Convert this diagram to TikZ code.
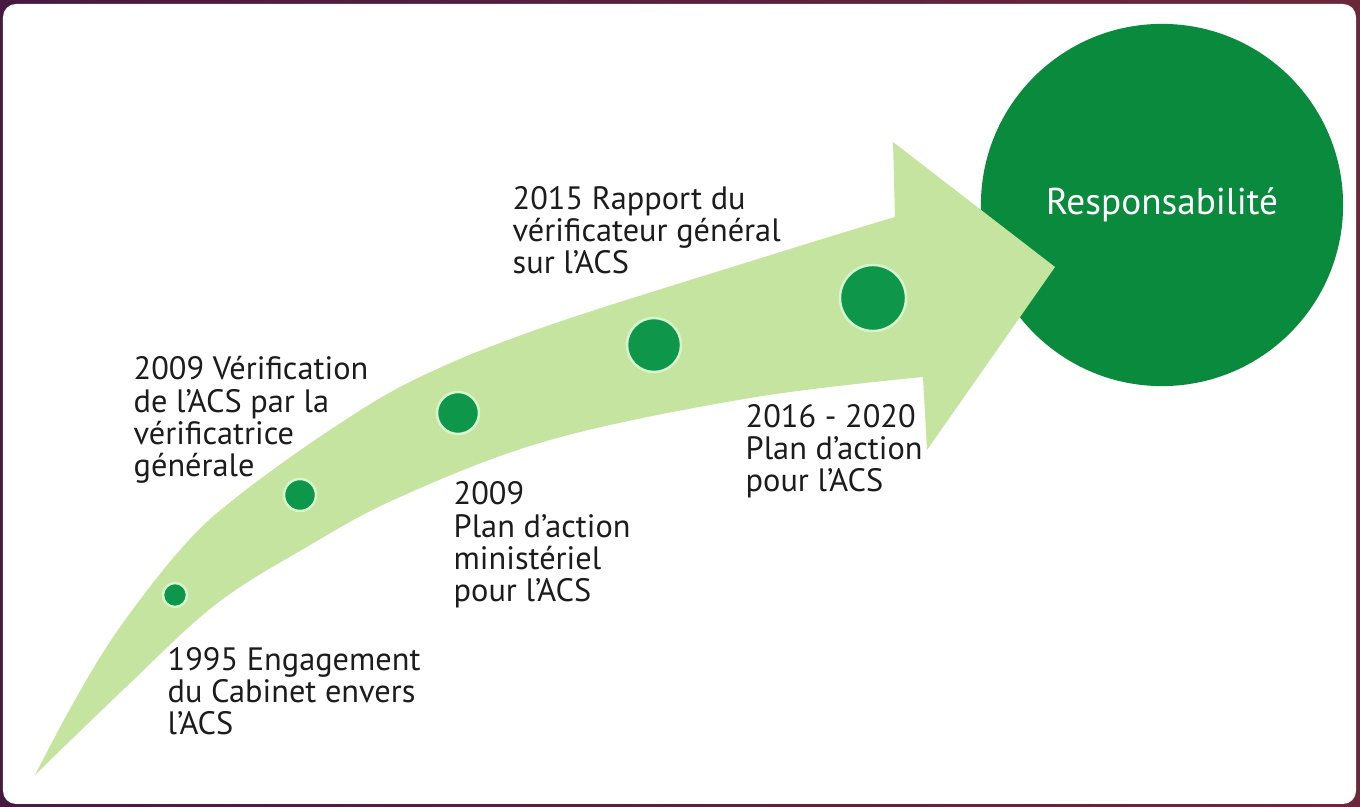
\documentclass[tikz,border=0pt]{standalone}
\usepackage{fontspec}
\setmainfont{PT Sans}
\usetikzlibrary{
    positioning      % For placing nodes relative to each other
}
\definecolor{framedark}{RGB}{70,26,64}
\definecolor{framered}{RGB}{108,40,58}
\definecolor{arrowlight}{RGB}{197,228,160}
\definecolor{dotgreen}{RGB}{14,150,74}
\definecolor{ringgreen}{RGB}{214,246,206}
\definecolor{goalgreen}{RGB}{10,138,60}
\definecolor{textdark}{RGB}{28,28,28}

\begin{document}
\begin{tikzpicture}[
    % one unit is one pixel of the layout, y runs downwards
    x=0.01cm, y=-0.01cm,
    % Style for the pale green arrow
    arrow_fill/.style={
        fill=arrowlight
    },
    % Style for the milestone dots
    dot_style/.style={
        circle,
        fill=dotgreen,
        draw=ringgreen,
        line width=0.7pt,
        inner sep=0pt
    },
    % Style for the milestone texts (placed at the baseline of their last line)
    label_style/.style={
        anchor=base west,
        align=left,
        inner sep=0pt,
        text=textdark,
        font=\fontsize{9.2}{9.2}\selectfont
    },
    % Style for the goal circle
    goal_style/.style={
        circle,
        fill=goalgreen,
        minimum size=3.62cm,
        inner sep=0pt,
        text=white,
        font=\fontsize{10.6}{12}\selectfont
    }
]
    % 1. Frame and white card.
    \useasboundingbox (0,0) rectangle (1360,807);
    \shade[left color=framedark, right color=framered] (0,0) rectangle (1360,807);
    \fill[white, rounded corners=3.7pt] (3,4) rectangle (1356,804);

    % 2. The goal circle, behind the arrow.
    \node[goal_style] (goal) at (1162,205) {Responsabilité};

    % 3. The curved arrow: upper edge, head, lower edge back to the tip.
    \fill[arrow_fill]
        plot[smooth, tension=0.6] coordinates {(35,775) (75,700) (118,630) (180,550) (233,500) (330,430) (420,377) (550,325) (787,250) (895,217)}
        -- (893,142) -- (1055,267) -- (927,450)
        -- plot[smooth, tension=0.6] coordinates {(923,377) (750,398) (550,440) (400,497) (305,548) (215,605) (125,688) (35,775)}
        -- cycle;

    % 4. Milestone dots along the arrow.
    \node[dot_style, minimum size=0.24cm] (dot_1995) at (175,595) {};
    \node[dot_style, minimum size=0.32cm] (dot_2009a) at (300,495) {};
    \node[dot_style, minimum size=0.42cm] (dot_2009b) at (458,413) {};
    \node[dot_style, minimum size=0.54cm] (dot_2015) at (654,345) {};
    \node[dot_style, minimum size=0.66cm] (dot_2016) at (873,298) {};

    % 5. Milestone texts.
    \node[label_style] (text_1995) at (167,735) {1995 Engagement\\du Cabinet envers\\l’ACS};
    \node[label_style] (text_2009a) at (133,477) {2009 Vérification\\de l’ACS par la\\vérificatrice\\générale};
    \node[label_style] (text_2009b) at (453,602) {2009\\Plan d’action\\ministériel\\pour l’ACS};
    \node[label_style] (text_2015) at (512,274) {2015 Rapport du\\vérificateur général\\sur l’ACS};
    \node[label_style] (text_2016) at (745,492) {2016 - 2020\\Plan d’action\\pour l’ACS};

\end{tikzpicture}
\end{document}
